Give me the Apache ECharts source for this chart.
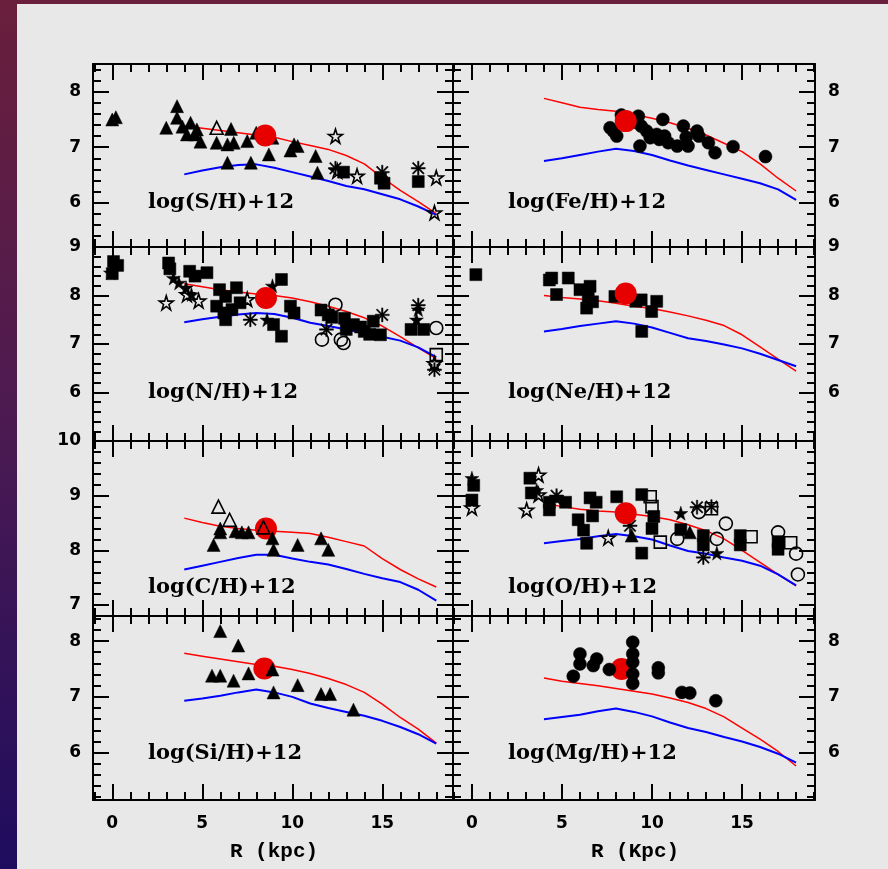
<!DOCTYPE html>
<html>
<head>
<meta charset="utf-8">
<script src="https://cdn.jsdelivr.net/npm/echarts@6/dist/echarts.min.js"></script>
<style>
html,body{margin:0;padding:0;width:888px;height:869px;overflow:hidden;
  background:linear-gradient(to bottom,#6a1f3c 0%,#4b1a52 50%,#1e0c5e 100%);}
#frame{position:absolute;left:17px;top:4px;width:871px;height:865px;background:#e8e8e8;}
#chart{position:absolute;left:0;top:0;width:888px;height:869px;}
</style>
</head>
<body>
<div id="frame"></div>
<div id="chart"></div>
<script>
// Galactocentric radius grid of the two chemical-evolution models
const modelR = [4,5,6,7,8,9,10,11,12,13,14,15,16,17,18];

// ---- S ----
const sRed  = [7.38,7.34,7.30,7.26,7.22,7.18,7.10,7.03,6.96,6.85,6.70,6.45,6.22,6.02,5.80];
const sBlue = [6.51,6.58,6.64,6.68,6.69,6.63,6.55,6.47,6.39,6.30,6.24,6.15,6.06,5.93,5.78];
const sSun  = [[8.5,7.21]];
const sTriFilled = [[0.0,7.50],[0.2,7.54],[3.0,7.35],[3.6,7.74],[3.6,7.53],[3.9,7.37],[4.15,7.23],[4.35,7.44],[4.6,7.23],[4.7,7.32],[4.9,7.10],[5.8,7.08],[6.4,7.05],[6.6,7.33],[6.75,7.08],[7.5,7.11],[8.0,7.26],[8.9,7.17],[6.4,6.72],[7.7,6.72],[8.7,6.87],[9.9,6.94],[10.1,7.05],[10.3,7.02],[11.3,6.84],[11.4,6.54]];
const sTriOpen = [[5.8,7.35]];
const sStars = [[12.4,7.20],[12.5,6.57],[13.6,6.48],[18.0,6.45],[17.9,5.82]];
const sAsterisks = [[12.4,6.62],[15.0,6.55],[17.0,6.62]];
const sSquares = [[12.85,6.55],[14.9,6.44],[15.1,6.35],[17.0,6.38]];

// ---- Fe ----
const feRed  = [7.88,7.80,7.72,7.68,7.65,7.59,7.52,7.44,7.34,7.22,7.07,6.92,6.70,6.44,6.21];
const feBlue = [6.75,6.80,6.86,6.92,6.97,6.93,6.86,6.76,6.67,6.59,6.51,6.43,6.35,6.24,6.05];
const feSun  = [[8.54,7.47]];
const feDots = [[7.67,7.35],[7.85,7.29],[8.04,7.20],[8.3,7.58],[9.1,7.45],[9.24,7.56],[9.4,7.38],[9.7,7.29],[9.33,7.02],[9.9,7.17],[10.26,7.23],[10.4,7.14],[10.6,7.50],[10.7,7.20],[10.9,7.08],[11.4,7.02],[11.74,7.38],[11.9,7.18],[12.0,7.02],[12.5,7.29],[12.6,7.20],[13.13,7.08],[13.5,6.90],[14.5,7.01],[16.3,6.83]];

// ---- N ----
const nRed  = [8.24,8.18,8.12,8.07,8.03,8.00,7.95,7.87,7.78,7.67,7.54,7.37,7.15,6.92,6.70];
const nBlue = [7.45,7.51,7.56,7.61,7.64,7.62,7.54,7.44,7.37,7.30,7.22,7.15,7.07,6.93,6.73];
const nSun  = [[8.54,7.95]];
const nSquares = [[0.07,8.70],[0.3,8.62],[0.0,8.45],[3.13,8.67],[3.2,8.55],[4.3,8.50],[4.6,8.40],[5.26,8.47],[5.96,8.12],[6.3,7.98],[5.8,7.78],[6.9,8.16],[7.1,7.85],[6.3,7.50],[6.2,7.64],[6.65,7.71],[9.4,8.33],[8.96,7.40],[9.4,7.16],[9.9,7.78],[10.1,7.64],[11.6,7.70],[12.0,7.60],[12.2,7.55],[12.9,7.53],[13.0,7.30],[13.4,7.40],[13.8,7.35],[14.0,7.26],[14.3,7.20],[14.5,7.47],[14.9,7.19],[16.6,7.30],[17.3,7.30]];
const nStarsFilled = [[-0.1,8.47],[3.4,8.36],[3.7,8.26],[4.1,8.16],[4.4,8.02],[8.9,8.20],[8.6,7.50],[17.0,7.71],[16.9,7.50]];
const nStarsOpen = [[3.0,7.85],[4.8,7.89],[4.15,8.02],[7.5,7.92],[17.9,6.60]];
const nAsterisks = [[7.67,7.50],[11.9,7.30],[15.0,7.60],[17.0,7.80],[17.9,6.47]];
const nCircles = [[12.4,7.81],[11.65,7.09],[12.7,7.09],[12.85,7.02],[18.0,7.33]];
const nOpenSquares = [[18.0,6.78]];

// ---- Ne ----
const neRed  = [8.00,7.96,7.93,7.89,7.84,7.78,7.73,7.66,7.58,7.49,7.38,7.19,6.94,6.69,6.44];
const neBlue = [7.26,7.31,7.37,7.42,7.47,7.42,7.34,7.23,7.12,7.06,6.99,6.91,6.80,6.67,6.54];
const neSun  = [[8.54,8.04]];
const neSquares = [[0.22,8.43],[4.43,8.36],[4.3,8.32],[5.35,8.36],[4.7,8.02],[6.0,8.12],[6.56,8.19],[6.46,7.98],[6.37,7.74],[6.7,7.87],[7.94,7.98],[9.1,7.88],[9.4,7.91],[10.26,7.88],[9.98,7.67],[9.43,7.26]];

// ---- C ----
const cRed  = [8.59,8.51,8.44,8.40,8.37,8.35,8.33,8.31,8.24,8.16,8.08,7.85,7.65,7.48,7.33];
const cBlue = [7.65,7.72,7.79,7.86,7.92,7.92,7.85,7.79,7.74,7.66,7.57,7.49,7.42,7.28,7.08];
const cSun  = [[8.54,8.40]];
const cTriOpen = [[5.9,8.80],[6.52,8.56],[8.4,8.42]];
const cTriFilled = [[6.0,8.40],[6.0,8.33],[5.63,8.10],[6.85,8.35],[7.2,8.33],[7.57,8.33],[8.9,8.22],[8.96,8.01],[10.3,8.10],[11.6,8.22],[12.0,8.01]];

// ---- O ----
const oRed  = [8.86,8.80,8.75,8.72,8.70,8.66,8.62,8.56,8.47,8.36,8.21,8.00,7.78,7.56,7.35];
const oBlue = [8.13,8.17,8.21,8.26,8.30,8.26,8.20,8.09,7.99,7.94,7.87,7.81,7.72,7.56,7.36];
const oSun  = [[8.54,8.68]];
const oSquares = [[0.1,9.19],[0.0,8.92],[3.22,9.32],[3.3,9.05],[4.3,8.88],[4.3,8.74],[5.2,8.88],[6.56,8.96],[5.9,8.56],[6.37,8.13],[6.2,8.37],[6.9,8.88],[6.7,8.63],[8.04,8.98],[9.43,9.02],[10.1,8.62],[10.0,8.40],[9.43,7.95],[11.6,8.38],[12.85,8.27],[12.85,8.10],[14.9,8.27],[14.9,8.10],[17.0,8.16],[17.0,8.02]];
const oStarsFilled = [[0.0,9.32],[3.6,9.10],[4.7,8.96],[11.6,8.68],[13.6,7.95]];
const oStarsOpen = [[0.0,8.78],[3.7,9.38],[3.7,9.02],[3.04,8.74],[7.57,8.23]];
const oOpenSquares = [[9.9,8.98],[10.0,8.80],[10.46,8.15],[13.3,8.76],[15.5,8.25],[17.7,8.14]];
const oCircles = [[11.4,8.21],[12.6,8.70],[13.6,8.21],[14.1,8.49],[17.0,8.33],[18.0,7.94],[18.1,7.56]];
const oAsterisks = [[4.7,9.00],[8.78,8.45],[12.5,8.79],[12.85,7.87],[13.3,8.80]];
const oTriFilled = [[8.87,8.27],[12.1,8.33]];

// ---- Si ----
const siRed  = [7.78,7.73,7.68,7.63,7.58,7.55,7.49,7.42,7.33,7.22,7.08,6.87,6.63,6.42,6.17];
const siBlue = [6.93,6.97,7.02,7.08,7.13,7.08,7.00,6.88,6.80,6.73,6.66,6.57,6.46,6.33,6.16];
const siSun  = [[8.45,7.51]];
const siTri = [[6.0,8.18],[7.0,7.92],[5.54,7.38],[6.0,7.38],[6.74,7.29],[7.57,7.42],[8.9,7.49],[8.96,7.08],[10.3,7.21],[11.6,7.05],[12.1,7.05],[13.4,6.77]];

// ---- Mg ----
const mgRed  = [7.34,7.28,7.24,7.20,7.15,7.10,7.05,6.98,6.90,6.79,6.64,6.44,6.24,6.02,5.76];
const mgBlue = [6.60,6.64,6.68,6.74,6.79,6.73,6.65,6.54,6.44,6.37,6.28,6.20,6.10,5.98,5.82];
const mgSun  = [[8.31,7.50]];
const mgDots = [[5.63,7.37],[6.0,7.77],[6.0,7.59],[6.93,7.68],[6.74,7.56],[7.63,7.49],[8.93,7.98],[8.93,7.77],[8.93,7.62],[8.93,7.41],[8.93,7.24],[10.35,7.43],[10.35,7.52],[11.66,7.08],[12.1,7.07],[13.54,6.93]];

// Tick values
const xMajorTicks = [0,5,10,15];
const yLabelsByRow = [[6,7,8],[6,7,8,9],[7,8,9,10],[6,7,8]];
const yRightLabelsByRow = [[6,7,8],[6,7,8,9],[],[6,7,8]];

// ---- layout ----
const colLeft = [93, 453], colWidth = [360, 362];
const rowTop = [64, 247, 441, 616], rowHeight = [183, 194, 175, 184];
const xRange = [[-1.07, 18.93], [-1.05, 19.05]];
const yRange = [[5.2, 8.5], [5, 9], [6.8, 10], [5.15, 8.45]];
const labelX = [148, 508], labelY = [203, 393, 588, 754];

const STAR = 'path://M50,0 L61.2,34.5 L97.6,34.5 L68.2,55.9 L79.4,90.5 L50,69.1 L20.6,90.5 L31.8,55.9 L2.4,34.5 L38.8,34.5 Z';
const AST = 'path://M9,0 L11,0 L11,20 L9,20 Z M0,9 L20,9 L20,11 L0,11 Z M1.4,2.8 L2.8,1.4 L18.6,17.2 L17.2,18.6 Z M17.2,1.4 L18.6,2.8 L2.8,18.6 L1.4,17.2 Z';
const markKinds = {
  triF:  {symbol:'triangle', size:13, open:false},
  triO:  {symbol:'triangle', size:13, open:true},
  sqF:   {symbol:'rect',     size:12, open:false},
  sqO:   {symbol:'rect',     size:12, open:true},
  dot:   {symbol:'circle',   size:13, open:false},
  cirO:  {symbol:'circle',   size:13, open:true},
  starF: {symbol:STAR,       size:14, open:false},
  starO: {symbol:STAR,       size:14, open:true},
  ast:   {symbol:AST,        size:14, open:false}
};

const panels = [
  {row:0,col:0,label:'log(S/H)+12', red:sRed, blue:sBlue, sun:sSun, sunOnTop:true,
   marks:[['triF',sTriFilled],['triO',sTriOpen],['starO',sStars],['ast',sAsterisks],['sqF',sSquares]]},
  {row:0,col:1,label:'log(Fe/H)+12', red:feRed, blue:feBlue, sun:feSun, sunOnTop:true,
   marks:[['dot',feDots]]},
  {row:1,col:0,label:'log(N/H)+12', red:nRed, blue:nBlue, sun:nSun, sunOnTop:true,
   marks:[['sqF',nSquares],['starF',nStarsFilled],['starO',nStarsOpen],['ast',nAsterisks],['cirO',nCircles],['sqO',nOpenSquares]]},
  {row:1,col:1,label:'log(Ne/H)+12', red:neRed, blue:neBlue, sun:neSun, sunOnTop:true,
   marks:[['sqF',neSquares]]},
  {row:2,col:0,label:'log(C/H)+12', red:cRed, blue:cBlue, sun:cSun, sunOnTop:false,
   marks:[['triF',cTriFilled],['triO',cTriOpen]]},
  {row:2,col:1,label:'log(O/H)+12', red:oRed, blue:oBlue, sun:oSun, sunOnTop:true,
   marks:[['sqF',oSquares],['starF',oStarsFilled],['starO',oStarsOpen],['sqO',oOpenSquares],['cirO',oCircles],['ast',oAsterisks],['triF',oTriFilled]]},
  {row:3,col:0,label:'log(Si/H)+12', red:siRed, blue:siBlue, sun:siSun, sunOnTop:false,
   marks:[['triF',siTri]]},
  {row:3,col:1,label:'log(Mg/H)+12', red:mgRed, blue:mgBlue, sun:mgSun, sunOnTop:false,
   marks:[['dot',mgDots]]}
];

function range(from, to, step) {
  const out = [];
  const n0 = Math.ceil(from / step - 1e-9), n1 = Math.floor(to / step + 1e-9);
  for (let n = n0; n <= n1; n++) out.push(Math.round(n * step * 100) / 100);
  return out;
}

function makeAxis(gi, pos, min, max, ticks, len, labels, showLine, margin, align) {
  return {
    type: 'value', gridIndex: gi, position: pos, min: min, max: max,
    axisLine: {show: showLine, onZero: false, lineStyle: {color: '#000', width: 2}},
    axisTick: {show: true, inside: true, length: len, customValues: ticks,
               lineStyle: {color: '#000', width: 2}},
    axisLabel: {show: labels.length > 0, customValues: labels, margin: margin,
                color: '#000', fontFamily: 'DejaVu Sans', fontSize: 17, fontWeight: 'bold',
                showMinLabel: true, showMaxLabel: true, align: align},
    splitLine: {show: false}
  };
}

const grids = [], xAxes = [], yAxes = [], series = [], graphics = [];

panels.forEach((p, gi) => {
  grids.push({left: colLeft[p.col], top: rowTop[p.row], width: colWidth[p.col], height: rowHeight[p.row]});
  const [xmin, xmax] = xRange[p.col];
  const [ymin, ymax] = yRange[p.row];
  const xMinor = range(xmin, xmax, 1);
  const yMajor = range(ymin, ymax, 1);
  const yMinor = range(ymin, ymax, 0.2);
  const bottomLabels = p.row === 3 ? xMajorTicks : [];

  const xi = xAxes.length;
  xAxes.push(makeAxis(gi, 'bottom', xmin, xmax, xMajorTicks, 16, bottomLabels, true, 15));
  xAxes.push(makeAxis(gi, 'bottom', xmin, xmax, xMinor, 8, [], false, 8));
  xAxes.push(makeAxis(gi, 'top', xmin, xmax, xMajorTicks, 16, [], true, 8));
  xAxes.push(makeAxis(gi, 'top', xmin, xmax, xMinor, 8, [], false, 8));

  const yi = yAxes.length;
  const leftLabels = p.col === 0 ? yLabelsByRow[p.row] : [];
  const rightLabels = p.col === 1 ? yRightLabelsByRow[p.row] : [];
  yAxes.push(makeAxis(gi, 'left', ymin, ymax, yMajor, 16, leftLabels, true, 12, 'right'));
  yAxes.push(makeAxis(gi, 'left', ymin, ymax, yMinor, 8, [], false, 8));
  yAxes.push(makeAxis(gi, 'right', ymin, ymax, yMajor, 16, rightLabels, true, 13, 'left'));
  yAxes.push(makeAxis(gi, 'right', ymin, ymax, yMinor, 8, [], false, 8));

  series.push({type: 'line', xAxisIndex: xi, yAxisIndex: yi, symbol: 'none', z: 2,
    data: modelR.map((r, i) => [r, p.red[i]]), lineStyle: {color: '#ff0000', width: 1.5}});
  series.push({type: 'line', xAxisIndex: xi, yAxisIndex: yi, symbol: 'none', z: 2,
    data: modelR.map((r, i) => [r, p.blue[i]]), lineStyle: {color: '#0000ff', width: 2}});

  p.marks.forEach(([kind, data]) => {
    const k = markKinds[kind];
    series.push({type: 'scatter', xAxisIndex: xi, yAxisIndex: yi, data: data,
      symbol: k.symbol, symbolSize: k.size, z: 4,
      itemStyle: k.open
        ? {color: 'rgba(232,232,232,0)', borderColor: '#000', borderWidth: 1.6, opacity: 1}
        : {color: '#000', borderColor: '#000', borderWidth: 0.5, opacity: 1}});
  });

  series.push({type: 'scatter', xAxisIndex: xi, yAxisIndex: yi, data: p.sun,
    symbol: 'circle', symbolSize: 22, z: p.sunOnTop ? 5 : 3,
    itemStyle: {color: '#e60000', opacity: 1}});

  graphics.push({type: 'text', x: labelX[p.col], y: labelY[p.row], z: 10,
    style: {text: p.label, fill: '#000', font: 'bold 21px "DejaVu Serif"', verticalAlign: 'middle'}});
});

graphics.push({type: 'text', x: 274, y: 852, z: 10,
  style: {text: 'R (kpc)', fill: '#000', font: 'bold 21px "Liberation Mono"', align: 'center', verticalAlign: 'middle'}});
graphics.push({type: 'text', x: 635, y: 852, z: 10,
  style: {text: 'R (Kpc)', fill: '#000', font: 'bold 21px "Liberation Mono"', align: 'center', verticalAlign: 'middle'}});

const chart = echarts.init(document.getElementById('chart'), null, {renderer: 'canvas'});
chart.setOption({
  animation: false,
  backgroundColor: 'transparent',
  grid: grids,
  xAxis: xAxes,
  yAxis: yAxes,
  series: series,
  graphic: graphics
});
</script>
</body>
</html>
